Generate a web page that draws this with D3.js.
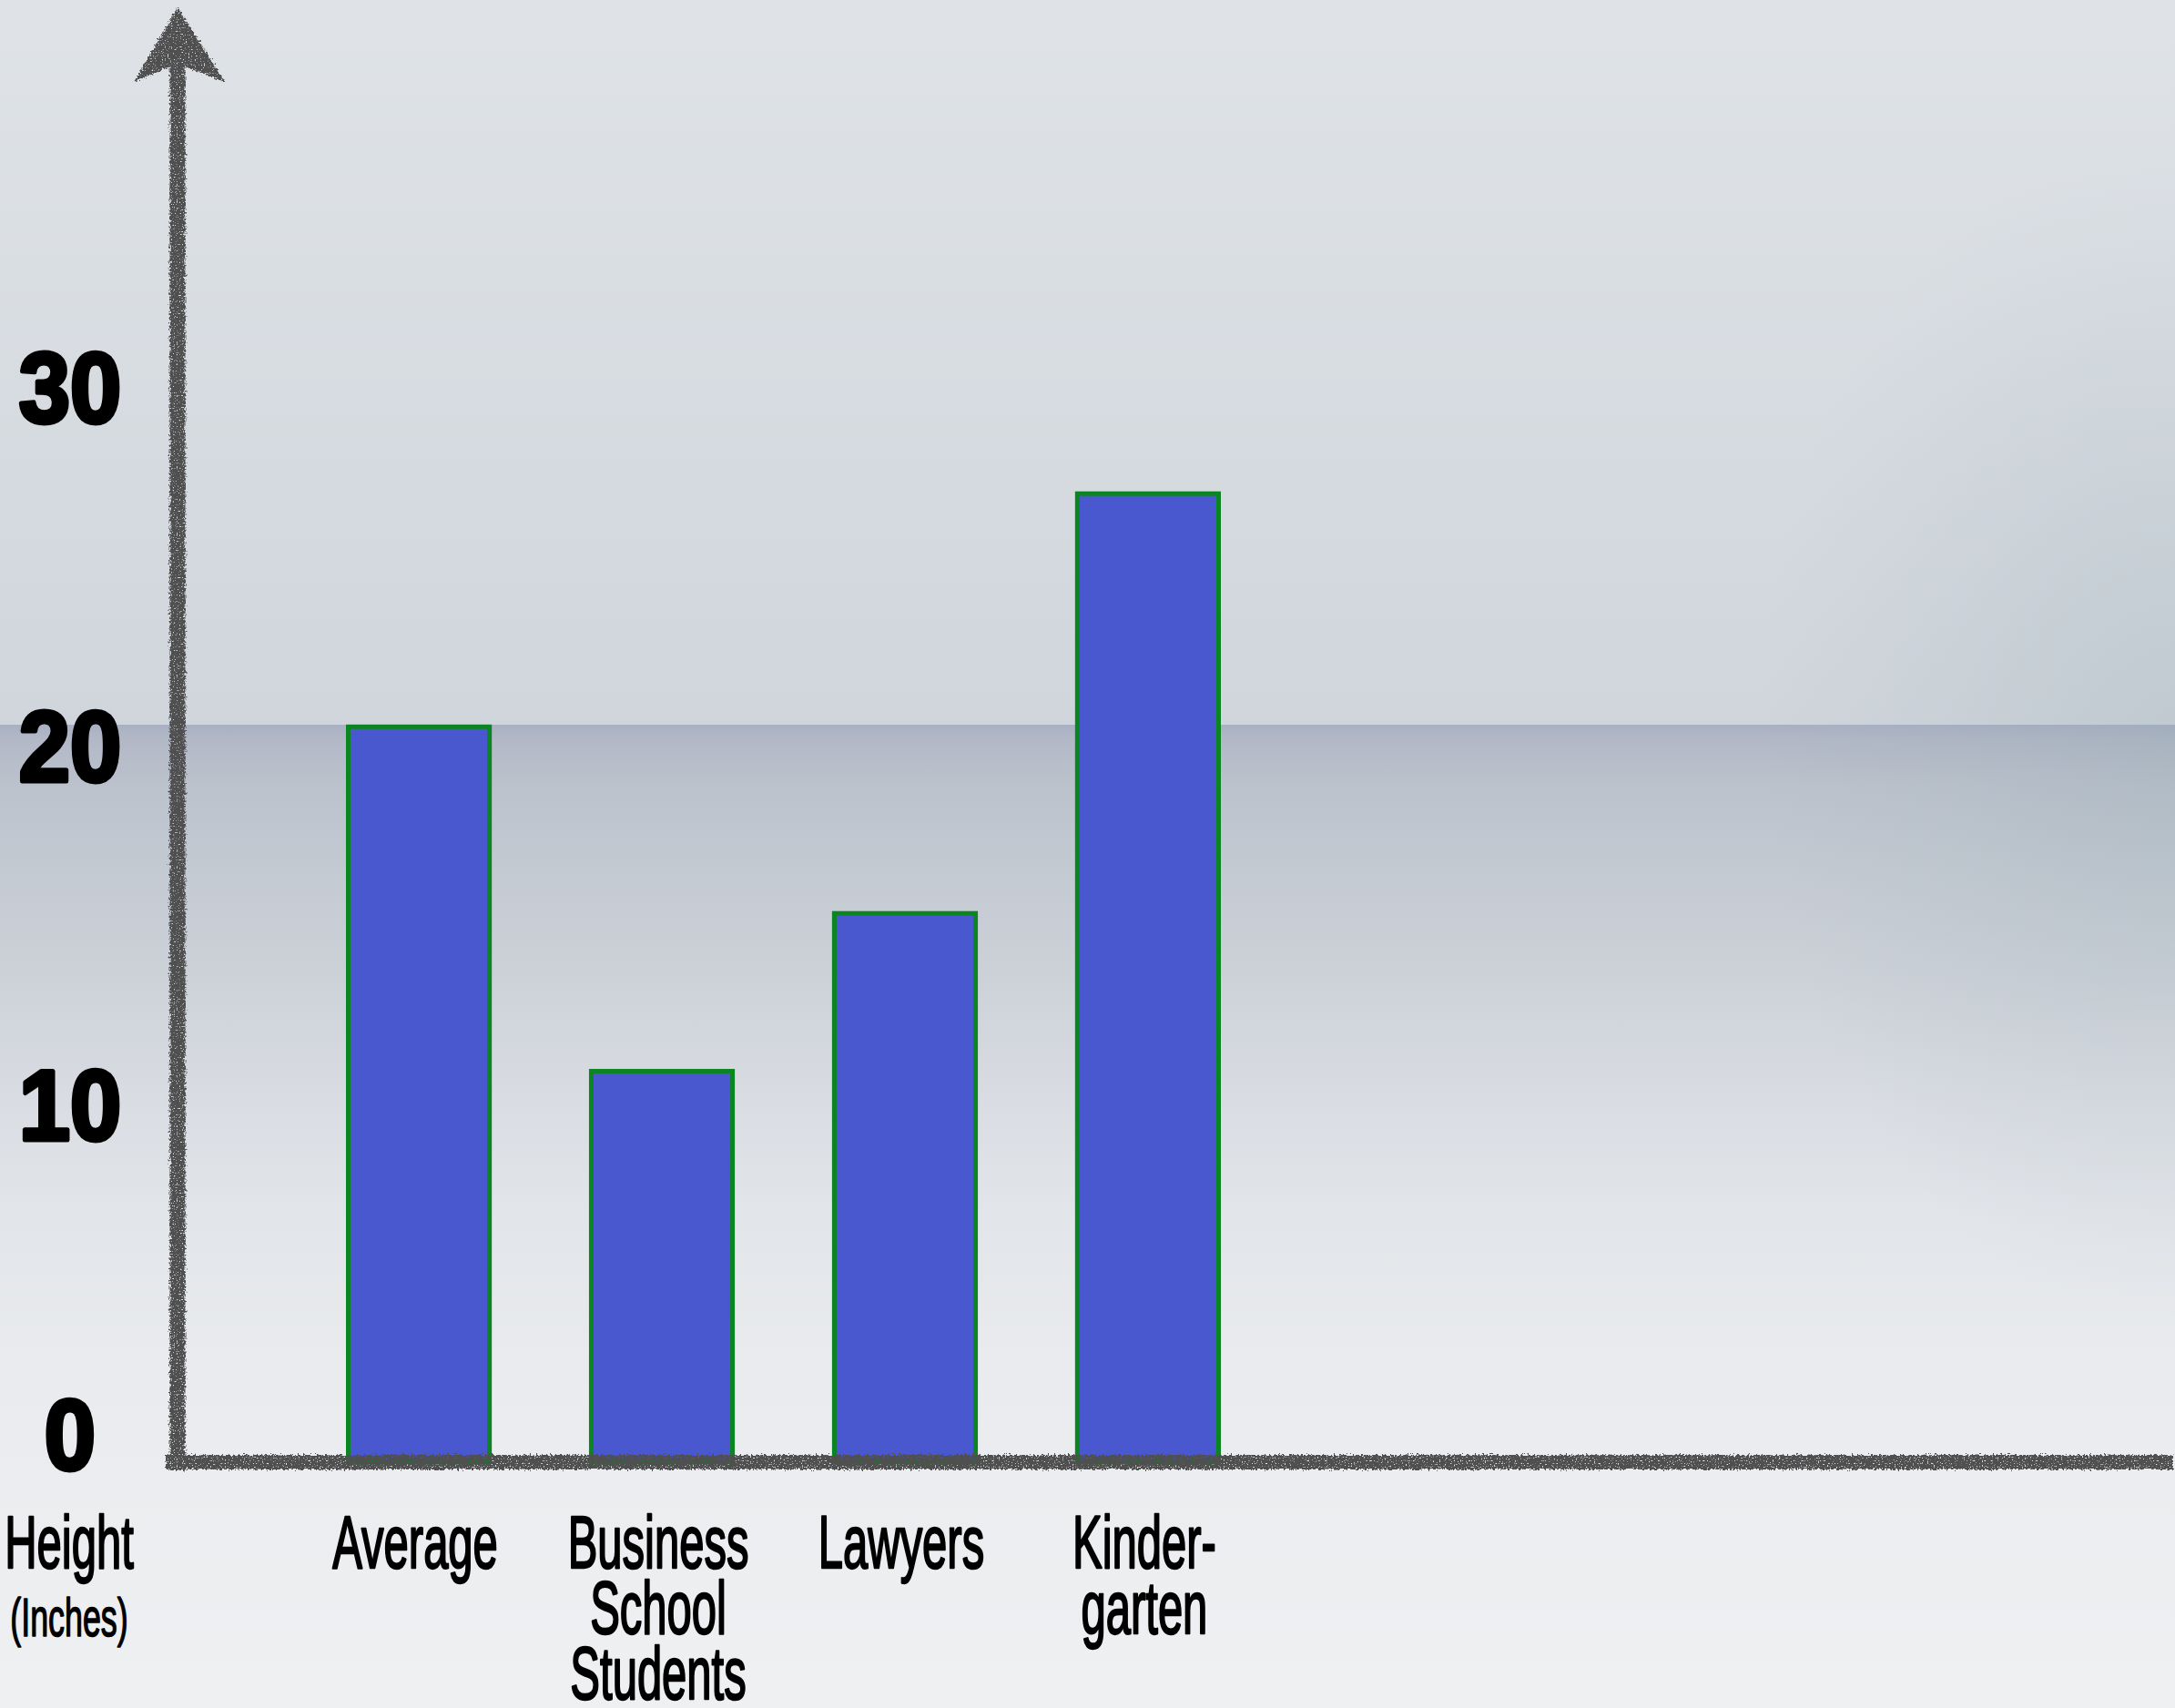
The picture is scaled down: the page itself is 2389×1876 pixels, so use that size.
<!DOCTYPE html>
<html>
<head>
<meta charset="utf-8">
<script src="https://cdn.jsdelivr.net/npm/d3@7"></script>
<style>
  html, body { margin: 0; padding: 0; background: #e8ebee; }
  svg { display: block; }
</style>
</head>
<body>
<svg id="chart" width="2389" height="1876"></svg>
<script>
// ---------- data ----------
const categories = ["Average", "Business School Students", "Lawyers", "Kindergarten"];
const categoryLines = [["Average"], ["Business", "School", "Students"], ["Lawyers"], ["Kinder-", "garten"]];
const heights = [20.5, 10.9, 15.3, 27.0];
const yTicks = [0, 10, 20, 30];
const axisTitle = ["Height", "(Inches)"];

// ---------- layout ----------
const W = 2389, H = 1876;
const svg = d3.select("#chart");
const defs = svg.append("defs");

// background gradients
const gTop = defs.append("linearGradient").attr("id", "bgTop").attr("x1", 0).attr("y1", 0).attr("x2", 0).attr("y2", 1);
[[0, "#dfe3e7"], [0.35, "#d3d8de"], [0.75, "#c4cad1"], [1, "#bcc3cb"]].forEach(([o, c]) =>
  gTop.append("stop").attr("offset", o).attr("stop-color", c));
const gBot = defs.append("linearGradient").attr("id", "bgBot").attr("x1", 0).attr("y1", 0).attr("x2", 0).attr("y2", 1);
[[0, "#a9b0c3"], [0.015, "#b2b8c6"], [0.06, "#bcc2cc"], [0.15, "#c4cad2"], [0.25, "#ccd1d8"], [0.38, "#d9dce2"], [0.5, "#e2e5e9"], [0.65, "#e9ebee"], [1, "#eff0f2"]].forEach(([o, c]) =>
  gBot.append("stop").attr("offset", o).attr("stop-color", c));
const gVig = defs.append("radialGradient").attr("id", "vig")
  .attr("gradientUnits", "userSpaceOnUse").attr("cx", W).attr("cy", 800).attr("r", 650)
  .attr("gradientTransform", `translate(${W},800) scale(0.7,1) translate(${-W},-800)`);
gVig.append("stop").attr("offset", 0).attr("stop-color", "#86a0aa").attr("stop-opacity", 0.22);
gVig.append("stop").attr("offset", 1).attr("stop-color", "#86a0aa").attr("stop-opacity", 0);

// chalk filter
const f = defs.append("filter").attr("id", "chalk")
  .attr("filterUnits", "userSpaceOnUse").attr("x", 0).attr("y", 0).attr("width", W).attr("height", H);
f.append("feTurbulence").attr("type", "fractalNoise").attr("baseFrequency", 0.45).attr("numOctaves", 2).attr("seed", 3).attr("result", "noise");
f.append("feDisplacementMap").attr("in", "SourceGraphic").attr("in2", "noise").attr("scale", 7)
  .attr("xChannelSelector", "R").attr("yChannelSelector", "G").attr("result", "disp");
f.append("feTurbulence").attr("type", "fractalNoise").attr("baseFrequency", 0.7).attr("numOctaves", 1).attr("seed", 7).attr("result", "grain");
f.append("feColorMatrix").attr("in", "grain").attr("type", "matrix")
  .attr("values", "0 0 0 0 0  0 0 0 0 0  0 0 0 0 0  0 0 0 -7 5.2").attr("result", "mask");
f.append("feComposite").attr("in", "disp").attr("in2", "mask").attr("operator", "in");

svg.append("rect").attr("x", 0).attr("y", 0).attr("width", W).attr("height", H).attr("fill", "url(#bgTop)");
svg.append("rect").attr("x", 0).attr("y", 796).attr("width", W).attr("height", H - 796).attr("fill", "url(#bgBot)");
svg.append("rect").attr("x", 0).attr("y", 0).attr("width", W).attr("height", 1500).attr("fill", "url(#vig)");

// scales
const y = d3.scaleLinear().domain([0, 30]).range([1606, 424]);
const x = d3.scaleBand().domain(categories).range([380, 1341]).paddingInner(0.4).paddingOuter(0);
const axisX = 195;
const bw = x.bandwidth();

// bars
const sw = 5;
svg.append("g").selectAll("rect").data(categories).join("rect")
  .attr("x", d => x(d) + sw / 2)
  .attr("y", (d, i) => y(heights[i]))
  .attr("width", bw - sw)
  .attr("height", (d, i) => y(0) - y(heights[i]))
  .attr("fill", "#4a58cf")
  .attr("stroke", "#0a8521")
  .attr("stroke-width", sw);

// chalk axes
const chalk = svg.append("g").attr("filter", "url(#chalk)").attr("fill", "#4f4f4f");
chalk.append("rect").attr("x", axisX - 8.5).attr("y", 70).attr("width", 17).attr("height", y(0) + 9 - 70);
chalk.append("rect").attr("x", 182).attr("y", y(0) - 8).attr("width", 2387 - 182).attr("height", 16);
chalk.append("path").attr("d", `M${axisX},8 L${axisX + 52},90 L${axisX},70 L${axisX - 48},90 Z`);

// y tick labels via d3 axis
const yAxis = d3.axisLeft(y).tickValues(yTicks).tickSize(0).tickPadding(0).tickFormat(d3.format("d"));
const yg = svg.append("g").attr("transform", `translate(${axisX},0)`).call(yAxis);
yg.select(".domain").remove();
yg.selectAll(".tick text")
  .attr("x", 0)
  .attr("text-anchor", "middle")
  .attr("transform", d => `translate(-118,${d === 0 ? -32 : 0}) scale(0.92,1)`)
  .attr("dy", "0.36em")
  .style("font-family", "'Liberation Sans', Arial, sans-serif")
  .style("font-weight", "bold")
  .style("font-size", "110px")
  .attr("fill", "#000")
  .attr("stroke", "#000")
  .attr("stroke-width", 5)
  .attr("stroke-linejoin", "round");

// category labels
const labelFont = "'Liberation Sans Narrow', 'Liberation Sans', Arial, sans-serif";
const probe = svg.append("text").style("font-family", labelFont).style("font-size", "84px").text("Average");
const sx = 186 / probe.node().getComputedTextLength();
probe.remove();

const catG = svg.append("g").selectAll("g").data(categories).join("g")
  .attr("transform", d => `translate(${x(d) + bw / 2 - 4},0) scale(${sx},1)`);
catG.each(function (d, i) {
  const t = d3.select(this).append("text")
    .attr("text-anchor", "middle")
    .style("font-family", labelFont)
    .style("font-size", "82px")
    .attr("fill", "#000")
    .attr("stroke", "#000").attr("stroke-width", 2.4).attr("stroke-linejoin", "round");
  categoryLines[i].forEach((ln, j) => {
    t.append("tspan").attr("x", 0).attr("y", 1722 + j * 72).text(ln);
  });
});

// axis title
const tg = svg.append("g").attr("transform", `translate(76,0) scale(${sx},1)`);
tg.append("text").attr("x", 0).attr("y", 1722).attr("text-anchor", "middle")
  .style("font-family", labelFont).style("font-size", "82px")
  .attr("fill", "#000").attr("stroke", "#000").attr("stroke-width", 2.4).attr("stroke-linejoin", "round").text(axisTitle[0]);
tg.append("text").attr("x", 0).attr("y", 1797).attr("text-anchor", "middle")
  .style("font-family", labelFont).style("font-size", "60px")
  .attr("fill", "#000").attr("stroke", "#000").attr("stroke-width", 1.6).attr("stroke-linejoin", "round").text(axisTitle[1]);
</script>
</body>
</html>
